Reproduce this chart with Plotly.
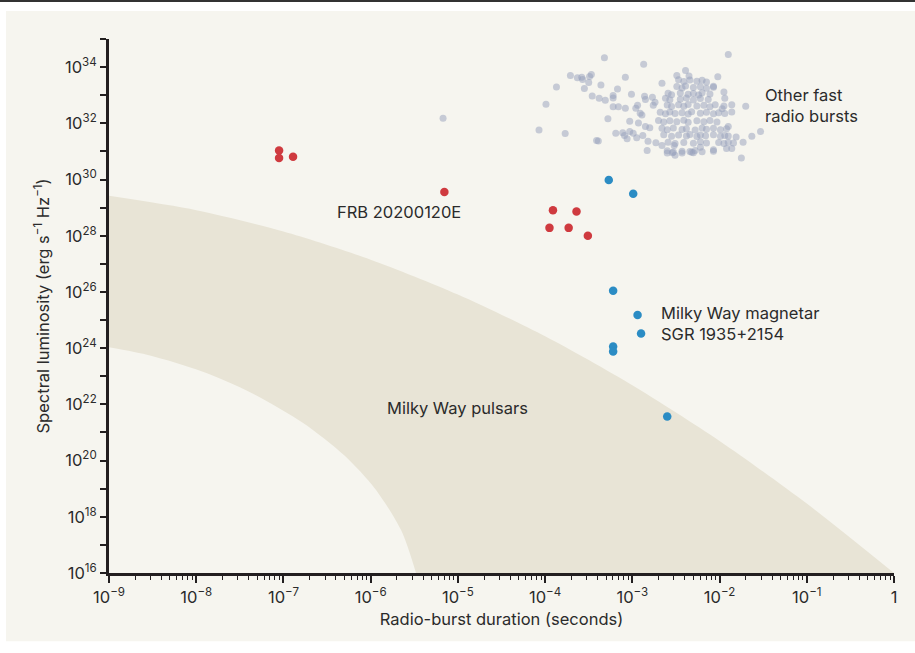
import numpy as np
import plotly.graph_objects as go

# ---- data (log10 values) ----
frb_log_dur = [-7.05, -7.05, -6.89, -5.155, -3.91, -3.64, -3.95, -3.73, -3.51]
frb_log_lum = [31.03, 30.77, 30.81, 29.56, 28.91, 28.86, 28.28, 28.28, 28.00]

sgr_log_dur = [-3.27, -2.99, -3.22, -2.94, -2.90, -3.22, -3.22, -2.60]
sgr_log_lum = [29.98, 29.49, 26.04, 25.18, 24.52, 24.06, 23.88, 21.57]

cloud_log_points = [
    (-3.32, 34.33), (-3.71, 33.70), (-3.63, 33.62), (-3.58, 33.64), (-3.57, 33.56),
    (-3.49, 33.67), (-3.47, 33.74), (-3.50, 33.45), (-3.87, 33.29), (-3.55, 33.24),
    (-3.36, 33.36), (-3.46, 32.97), (-3.38, 32.89), (-3.31, 32.82), (-3.99, 32.68),
    (-5.17, 32.18), (-3.28, 32.16), (-4.07, 31.76), (-3.77, 31.64), (-3.39, 31.37),
    (-3.41, 31.39), (-1.90, 34.45), (-2.87, 34.10), (-3.08, 33.64), (-2.39, 33.88),
    (-2.49, 33.70), (-2.35, 33.68), (-2.02, 33.66), (-2.66, 33.43), (-3.17, 33.22),
    (-3.01, 33.03), (-3.22, 32.99), (-3.22, 32.90), (-2.86, 32.96), (-2.85, 32.85),
    (-2.77, 32.93), (-2.74, 32.75), (-2.76, 32.64), (-2.94, 32.64), (-2.96, 32.54),
    (-3.22, 32.59), (-3.16, 32.59), (-3.08, 32.54), (-2.91, 32.36), (-2.89, 32.30),
    (-3.03, 32.07), (-2.93, 32.01), (-2.85, 31.89), (-2.80, 31.84), (-3.19, 31.65),
    (-3.11, 31.66), (-3.09, 31.57), (-3.03, 31.71), (-2.99, 31.65), (-3.06, 31.45),
    (-2.95, 31.49), (-2.88, 31.57), (-2.82, 31.36), (-2.73, 31.31), (-2.66, 31.21),
    (-2.83, 31.03), (-2.60, 30.94), (-2.54, 30.95), (-2.52, 31.21), (-2.43, 30.94),
    (-2.51, 30.86), (-2.34, 31.00), (-2.30, 30.95), (-2.22, 31.15), (-2.07, 31.06),
    (-1.92, 31.10), (-1.86, 31.10), (-1.75, 30.77), (-1.81, 31.51), (-1.73, 31.33),
    (-1.63, 31.54), (-1.53, 31.71), (-1.70, 32.61), (-1.86, 32.66), (-1.86, 32.40),
    (-1.95, 33.11), (-1.94, 32.89), (-1.97, 32.52), (-1.90, 31.89), (-2.07, 33.28),
    (-2.47, 33.55), (-2.41, 33.49), (-2.34, 33.54), (-2.26, 33.50), (-2.20, 33.53),
    (-2.15, 33.47), (-2.49, 33.31), (-2.43, 33.26), (-2.39, 33.33), (-2.30, 33.27),
    (-2.22, 33.30), (-2.15, 33.25), (-2.07, 33.32), (-2.59, 33.07), (-2.55, 33.02),
    (-2.45, 33.08), (-2.36, 33.03), (-2.30, 33.06), (-2.24, 33.01), (-2.20, 33.09),
    (-2.11, 33.04), (-2.62, 32.89), (-2.57, 32.84), (-2.45, 32.86), (-2.38, 32.90),
    (-2.30, 32.83), (-2.22, 32.88), (-2.13, 32.85), (-2.60, 32.65), (-2.55, 32.60),
    (-2.47, 32.66), (-2.41, 32.61), (-2.36, 32.67), (-2.26, 32.62), (-2.18, 32.64),
    (-2.11, 32.59), (-2.05, 32.66), (-1.95, 32.62), (-2.68, 32.39), (-2.62, 32.34),
    (-2.57, 32.40), (-2.51, 32.35), (-2.43, 32.38), (-2.36, 32.33), (-2.32, 32.41),
    (-2.22, 32.36), (-2.15, 32.39), (-2.07, 32.34), (-2.01, 32.38), (-1.94, 32.35),
    (-2.70, 32.10), (-2.64, 32.05), (-2.57, 32.09), (-2.49, 32.06), (-2.41, 32.11),
    (-2.36, 32.04), (-2.26, 32.09), (-2.18, 32.06), (-2.11, 32.10), (-2.03, 32.05),
    (-2.66, 31.82), (-2.60, 31.77), (-2.53, 31.83), (-2.43, 31.78), (-2.38, 31.81),
    (-2.28, 31.76), (-2.20, 31.83), (-2.15, 31.79), (-2.07, 31.82), (-1.99, 31.77),
    (-1.92, 31.81), (-2.64, 31.59), (-2.55, 31.54), (-2.47, 31.58), (-2.38, 31.55),
    (-2.34, 31.60), (-2.26, 31.53), (-2.22, 31.58), (-2.16, 31.56), (-2.07, 31.59),
    (-1.99, 31.54), (-1.94, 31.57), (-1.90, 31.55), (-2.59, 31.33), (-2.51, 31.28),
    (-2.41, 31.32), (-2.30, 31.29), (-2.22, 31.34), (-2.15, 31.30), (-2.01, 31.32),
    (-1.95, 31.28), (-1.90, 31.33), (-1.84, 31.30), (-2.60, 31.02), (-2.53, 30.98),
    (-2.43, 31.01), (-2.32, 30.97), (-2.28, 31.03), (-2.20, 30.99), (-2.07, 31.01),
]

pulsar_upper_log_dur = [-9, -8, -7, -6, -5, -4, -3, -2, -1, 0]
pulsar_upper_log_lum = [29.42, 28.91, 28.15, 27.15, 25.91, 24.42, 22.68, 20.70, 18.47, 16.0]
pulsar_lower_log_dur = [-9, -8.53, -7.94, -7.36, -6.77, -6.30, -5.95, -5.65, -5.48]
pulsar_lower_log_lum = [24.03, 23.74, 23.18, 22.40, 21.33, 20.18, 19.00, 17.52, 16.0]

x_tick_exps = list(range(-9, 1))
y_tick_exps = list(range(16, 36))

INK = "#231f20"
TXT = "#2b2b2b"
FONT = "Inter"
FS = 16.5

# ---- figure ----
fig = go.Figure()

# lower edge of the pulsar band (no fill), then upper edge filled down to it
fig.add_trace(go.Scatter(
    x=10.0 ** np.array(pulsar_lower_log_dur), y=10.0 ** np.array(pulsar_lower_log_lum),
    mode="lines", line=dict(width=0, color="#e8e4d6", shape="spline", smoothing=0.8),
    hoverinfo="skip"))
fig.add_trace(go.Scatter(
    x=10.0 ** np.array(pulsar_upper_log_dur), y=10.0 ** np.array(pulsar_upper_log_lum),
    mode="lines", fill="tonexty", fillcolor="#e8e4d6",
    line=dict(width=0, color="#e8e4d6", shape="spline", smoothing=0.8),
    hoverinfo="skip"))

cx = [p[0] for p in cloud_log_points]
cy = [p[1] for p in cloud_log_points]
fig.add_trace(go.Scatter(
    x=10.0 ** np.array(cx), y=10.0 ** np.array(cy), mode="markers",
    marker=dict(size=7, color="rgba(150,160,188,0.5)", line=dict(width=0))))

fig.add_trace(go.Scatter(
    x=10.0 ** np.array(frb_log_dur), y=10.0 ** np.array(frb_log_lum), mode="markers",
    marker=dict(size=8.5, color="#cf3a3f", line=dict(width=0))))

fig.add_trace(go.Scatter(
    x=10.0 ** np.array(sgr_log_dur), y=10.0 ** np.array(sgr_log_lum), mode="markers",
    marker=dict(size=8.5, color="#2b8cc4", line=dict(width=0))))

def pow_label(e):
    if e == 0:
        return "1"
    s = str(e).replace("-", "\u2212")
    return f"10<sup>{s}</sup>"

x_minor = [m * 10.0 ** e for e in range(-9, 0) for m in range(2, 10)]

fig.update_xaxes(
    type="log", range=[-9, 0], showgrid=False, zeroline=False,
    showline=True, linewidth=3, linecolor=INK,
    ticks="outside", ticklen=7, tickwidth=1.5, tickcolor=INK,
    tickmode="array", tickvals=[10.0 ** e for e in x_tick_exps],
    ticktext=[pow_label(e) for e in x_tick_exps],
    tickfont=dict(family=FONT, size=FS, color=TXT),
    minor=dict(ticks="outside", ticklen=4, tickwidth=1, tickcolor=INK,
               tickmode="array", tickvals=x_minor, showgrid=False),
    title=dict(text="Radio-burst duration (seconds)",
               font=dict(family=FONT, size=FS, color=TXT), standoff=8),
)
fig.update_yaxes(
    type="log", range=[16, 35], showgrid=False, zeroline=False,
    showline=True, linewidth=3, linecolor=INK,
    ticks="outside", ticklen=6, tickwidth=1.5, tickcolor=INK,
    tickmode="array", tickvals=[10.0 ** e for e in y_tick_exps],
    ticktext=[pow_label(e) if e % 2 == 0 else "" for e in y_tick_exps],
    tickfont=dict(family=FONT, size=FS, color=TXT),
    title=dict(text="Spectral luminosity (erg s<sup>\u22121</sup> Hz<sup>\u22121</sup>)",
               font=dict(family=FONT, size=FS, color=TXT), standoff=12),
)

ann_font = dict(family=FONT, size=FS, color=TXT)
fig.add_annotation(x=-6.41, y=28.83, xref="x", yref="y", text="FRB 20200120E",
                   showarrow=False, xanchor="left", font=ann_font)
fig.add_annotation(x=-1.50, y=32.62, xref="x", yref="y", text="Other fast<br>radio bursts",
                   showarrow=False, xanchor="left", align="left", font=ann_font)
fig.add_annotation(x=-2.70, y=24.88, xref="x", yref="y",
                   text="Milky Way magnetar<br>SGR 1935+2154",
                   showarrow=False, xanchor="left", align="left", font=ann_font)
fig.add_annotation(x=-5.01, y=21.86, xref="x", yref="y", text="Milky Way pulsars",
                   showarrow=False, xanchor="center", font=ann_font)

# background panel and top rule (paper coords; plot area 785 x 534 px)
fig.add_shape(type="rect", xref="paper", yref="paper",
              x0=-0.1312, x1=1.03, y0=-0.128, y1=1.0524,
              fillcolor="#f6f5ef", line=dict(width=0), layer="below")
fig.add_shape(type="line", xref="paper", yref="paper",
              x0=-0.14, x1=1.03, y0=1.0712, y1=1.0712,
              line=dict(color="#333333", width=2), layer="below")

fig.update_layout(
    width=915, height=653,
    margin=dict(l=109, r=21, t=39, b=80),
    paper_bgcolor="white", plot_bgcolor="rgba(0,0,0,0)",
    showlegend=False, font=dict(family=FONT, size=FS, color=TXT),
)

fig.write_html("out.html", config={"displayModeBar": False},
               post_script="document.body.style.margin='0px';")
